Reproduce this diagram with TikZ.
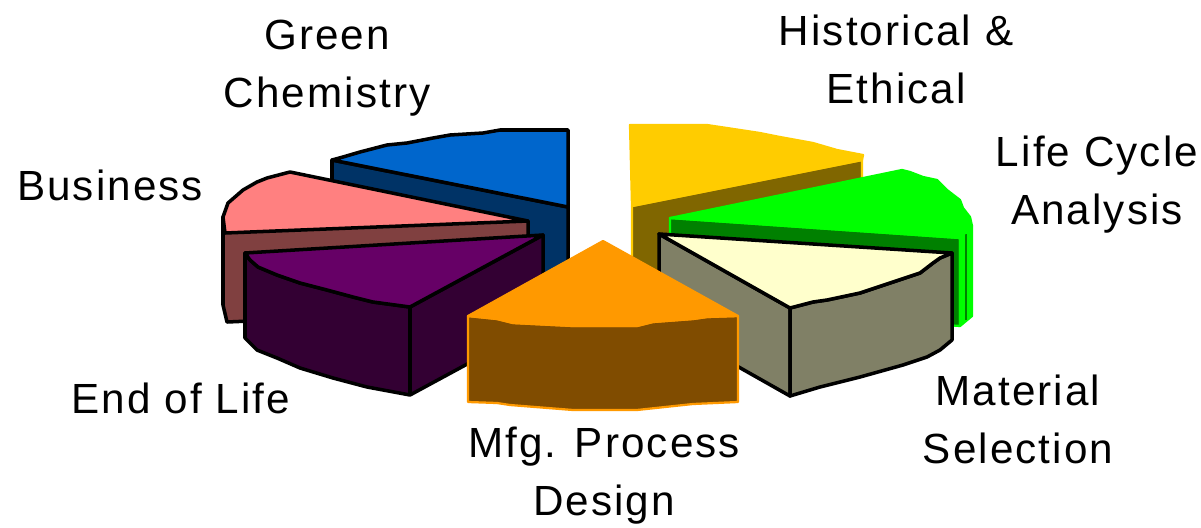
\documentclass[tikz,border=0pt]{standalone}
\usepackage{xcolor}
\usepackage{fontspec}
\usepackage{tikz}
\newfontfamily\piefont[LetterSpace=5]{Liberation Sans}

\definecolor{chemtop}{HTML}{0066CC}
\definecolor{chemside}{HTML}{003366}
\definecolor{bustop}{HTML}{FF8080}
\definecolor{busside}{HTML}{804040}
\definecolor{eoltop}{HTML}{660066}
\definecolor{eolside}{HTML}{330033}
\definecolor{histtop}{HTML}{FFCC00}
\definecolor{histside}{HTML}{806600}
\definecolor{lcatop}{HTML}{00FF00}
\definecolor{lcaside}{HTML}{008000}
\definecolor{mattop}{HTML}{FFFFCC}
\definecolor{matside}{HTML}{808066}
\definecolor{mfgtop}{HTML}{FF9900}
\definecolor{mfgside}{HTML}{804C00}

\begin{document}
\begin{tikzpicture}[
    x=0.025cm, y=-0.025cm,
    slice/.style={draw=black, line width=2.5pt, line join=round},
    litslice/.style={line width=1.6pt, line join=round},
    slicetext/.style={font=\piefont\fontsize{30}{41}\selectfont, align=center, anchor=base, inner sep=0pt}
]
\useasboundingbox (0,0) rectangle (1201,527);

% Green Chemistry
\filldraw[slice, fill=chemside] (332,160) -- (568,207) -- (568,295) -- (332,248) -- cycle;
\filldraw[slice, fill=chemtop] (568,130) -- (500,130) -- (483,133) -- (450,135) -- (433,138)
    -- (407,143) -- (387,145) -- (360,152) -- (343,157) -- (332,160) -- (568,207) -- cycle;

% Business
\filldraw[slice, fill=busside] (223,217) -- (528,221) -- (528,309) -- (227,322) -- (223,305) -- cycle;
\filldraw[slice, fill=bustop] (290,172) -- (528,221) -- (225,233) -- (223,217) -- (228,203)
    -- (243,190) -- (257,182) -- (267,178) -- cycle;

% End of Life
\filldraw[slice, fill=eolside] (245,253) -- (250,260) -- (258,267) -- (277,275) -- (300,283)
    -- (327,290) -- (353,297) -- (373,302) -- (410,307) -- (543,235) -- (543,323) -- (410,395)
    -- (367,387) -- (333,378) -- (300,368) -- (277,358) -- (257,350) -- (245,338) -- cycle;
\draw[slice] (410,307) -- (410,395);
\filldraw[slice, fill=eoltop] (245,253) -- (543,235) -- (410,307) -- (373,302) -- (353,297)
    -- (327,290) -- (300,283) -- (277,275) -- (258,267) -- (250,260) -- cycle;

% Historical & Ethical
\filldraw[litslice, draw=histtop, fill=histside] (632,206) -- (862,160) -- (862,248) -- (632,294) -- cycle;
\filldraw[litslice, draw=histtop, fill=histtop] (630,125) -- (707,125) -- (727,128) -- (760,133)
    -- (780,137) -- (813,143) -- (837,150) -- (863,155) -- (862,160) -- (632,206) -- cycle;

% Life Cycle Analysis
\filldraw[litslice, draw=lcatop, fill=lcaside] (670,218) -- (960,238) -- (960,326) -- (670,306) -- cycle;
\filldraw[litslice, draw=lcatop, fill=lcatop] (960,238) -- (972,226) -- (972,316) -- (960,326) -- cycle;
\draw[lcaside, line width=2pt] (966,234) -- (966,320);
\filldraw[litslice, draw=lcatop, fill=lcatop] (670,218) -- (902,170) -- (910,172) -- (923,177)
    -- (937,180) -- (947,190) -- (960,200) -- (963,208) -- (970,217) -- (972,226) -- (960,238) -- cycle;

% Material Selection
\filldraw[slice, fill=matside] (659,234) -- (790,308) -- (790,396) -- (659,322) -- cycle;
\filldraw[slice, fill=matside] (790,308) -- (813,302) -- (827,300) -- (860,293) -- (890,283)
    -- (920,273) -- (933,263) -- (940,258) -- (952,253) -- (952,340) -- (940,350) -- (927,357)
    -- (903,365) -- (860,377) -- (820,387) -- (790,396) -- cycle;
\filldraw[slice, fill=mattop] (659,234) -- (952,253) -- (940,258) -- (933,263) -- (920,273)
    -- (890,283) -- (860,293) -- (827,300) -- (813,302) -- (790,308) -- cycle;

% Mfg. Process Design
\filldraw[litslice, draw=mfgtop, fill=mfgside] (468,316) -- (497,319) -- (513,323) -- (573,326)
    -- (637,326) -- (653,322) -- (693,319) -- (707,317) -- (738,316) -- (738,402) -- (693,404)
    -- (637,410) -- (573,410) -- (510,405) -- (497,403) -- (468,402) -- cycle;
\filldraw[litslice, draw=mfgtop, fill=mfgtop] (603,241) -- (738,316) -- (707,317) -- (693,319)
    -- (653,322) -- (637,326) -- (573,326) -- (513,323) -- (497,319) -- (468,316) -- cycle;

% Labels (base = last line)
\node[slicetext] (chem) at (327,107) {Green\\Chemistry};
\node[slicetext] (hist) at (896,103) {Historical \&\\Ethical};
\node[slicetext] (lca) at (1097,224) {Life Cycle\\Analysis};
\node[slicetext] (bus) at (110,200) {Business};
\node[slicetext] (eol) at (181,413) {End of Life};
\node[slicetext] (mat) at (1018,463) {Material\\Selection};
\node[slicetext] (mfg) at (604,515) {Mfg. Process\\Design};

\end{tikzpicture}
\end{document}
